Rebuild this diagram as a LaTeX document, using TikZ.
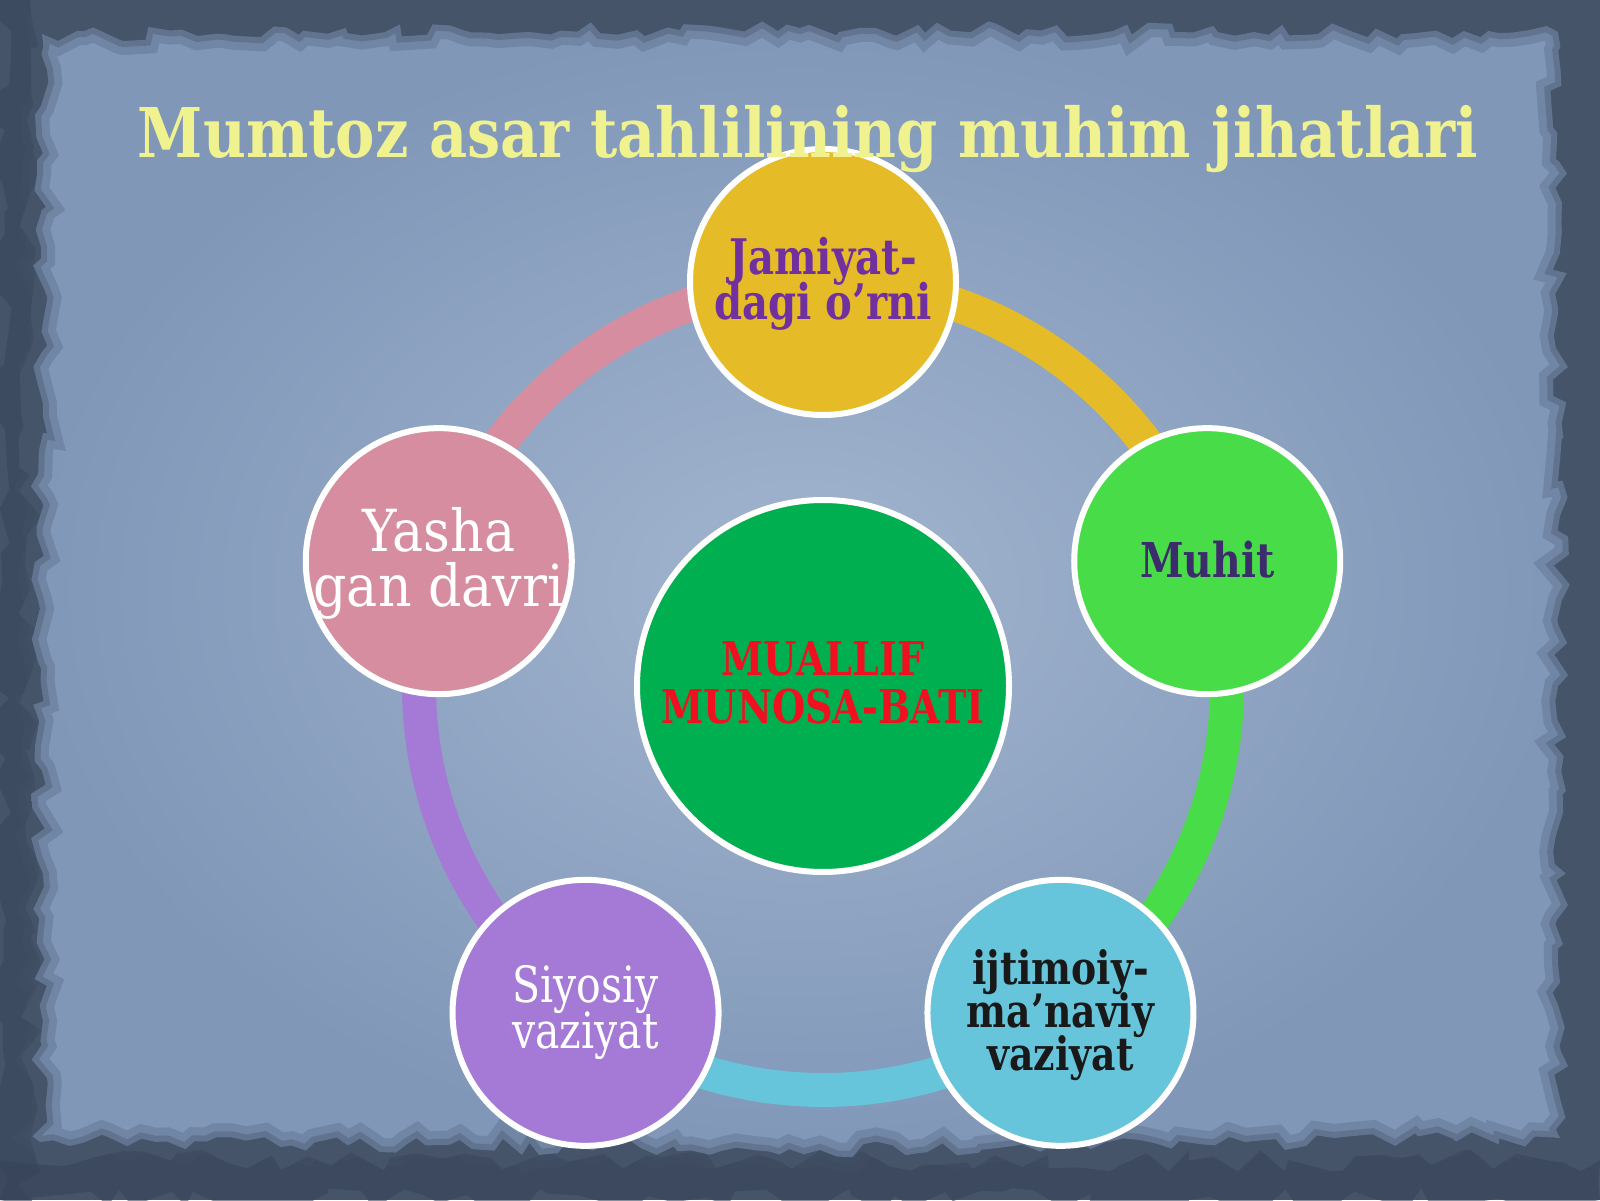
\documentclass[tikz,border=0pt]{standalone}
\usepackage{fontspec}
\setmainfont{DejaVu Serif}[FakeStretch=0.82]
\newfontfamily\titlefont{DejaVu Serif}[FakeStretch=0.86]
\newfontfamily\widefont{DejaVu Serif}[FakeStretch=0.9]
\usetikzlibrary{calc,decorations.pathmorphing}
\pgfdeclarelayer{paperlayer}
\pgfdeclarelayer{ringlayer}
\pgfsetlayers{paperlayer,ringlayer,main}
\definecolor{framec}{HTML}{46546A}
\definecolor{framedk}{HTML}{364357}
\definecolor{paperin}{HTML}{A2B5CF}
\definecolor{paperout}{HTML}{8097B8}
\definecolor{titlec}{HTML}{F0F290}
\definecolor{cgold}{HTML}{E6BB28}
\definecolor{cgreen}{HTML}{48DC48}
\definecolor{ccyan}{HTML}{66C4DB}
\definecolor{cpurple}{HTML}{A57AD6}
\definecolor{cpink}{HTML}{D68DA0}
\definecolor{chub}{HTML}{00B050}
\definecolor{jtext}{HTML}{7030A0}
\definecolor{mtext}{HTML}{3C2C6C}
\definecolor{hubtext}{HTML}{F01020}
\newcommand{\tightlines}{\lineskiplimit-100pt\relax}
\newcommand{\paperpath}{(40,58) -- (820,50) -- (1560,62) -- (1562,600) -- (1558,1168) -- (800,1172) -- (42,1166) -- (38,600) -- cycle}
\begin{document}
\begin{tikzpicture}[x=0.5pt,y=0.5pt,
  bubble/.style={circle, draw=white, line width=3pt, minimum size=133pt, inner sep=0pt},
  hubnode/.style={circle, draw=white, line width=3pt, minimum size=186pt, inner sep=0pt, fill=chub},
  ring/.style={line width=17pt},
  rough/.style={decorate, decoration={random steps, segment length=7pt, amplitude=4pt}},
  lbl/.style={align=center, inner sep=0pt}]
\useasboundingbox (0,0) rectangle (1600,1200);
\begin{pgfonlayer}{paperlayer}
  \fill[framec] (0,0) rectangle (1600,1200);
  \pgfmathsetseed{11}
  \fill[framedk, opacity=0.6, decorate, decoration={random steps, segment length=10pt, amplitude=6pt}]
    (0,0) rectangle (1600,40);
  \fill[framedk, opacity=0.5, decorate, decoration={random steps, segment length=10pt, amplitude=6pt}]
    (0,0) rectangle (30,1200);
  \pgfmathsetseed{7}
  \shade[inner color=paperin, outer color=paperout, rough] \paperpath;
  \pgfmathsetseed{7}
  \draw[framec, opacity=0.25, line width=14pt, rough] \paperpath;
  \pgfmathsetseed{7}
  \draw[framec, opacity=0.35, line width=6pt, rough] \paperpath;
\end{pgfonlayer}

\coordinate (C) at (823,514);
\node[hubnode] (hub) at (C) {};
\node[bubble, fill=cgold]   (jam) at ($(C)+(90:202pt)$) {};
\node[bubble, fill=cgreen]  (muh) at ($(C)+(18:202pt)$) {};
\node[bubble, fill=ccyan]   (ijt) at ($(C)+(-54:202pt)$) {};
\node[bubble, fill=cpurple] (siy) at ($(C)+(-126:202pt)$) {};
\node[bubble, fill=cpink]   (yas) at ($(C)+(162:202pt)$) {};

\begin{pgfonlayer}{ringlayer}
  \draw[ring, cgold]   (jam.center) arc[start angle=90,   end angle=18,   radius=202pt];
  \draw[ring, cgreen]  (muh.center) arc[start angle=18,   end angle=-54,  radius=202pt];
  \draw[ring, ccyan]   (ijt.center) arc[start angle=-54,  end angle=-126, radius=202pt];
  \draw[ring, cpurple] (siy.center) arc[start angle=-126, end angle=-198, radius=202pt];
  \draw[ring, cpink]   (yas.center) arc[start angle=162,  end angle=90,   radius=202pt];
\end{pgfonlayer}

\node[lbl, text=hubtext, font=\fontsize{23.3}{24}\selectfont\bfseries\tightlines]
  (hubt) at ($(hub)+(0,3)$) {MUALLIF\\MUNOSA-BATI};
\node[lbl, text=jtext, font=\fontsize{24.5}{22.5}\selectfont\bfseries\tightlines]
  (jamt) at ($(jam)+(0,-2)$) {Jamiyat-\\dagi o’rni};
\node[lbl, text=mtext, font=\fontsize{24}{24}\selectfont\bfseries]
  (muht) at ($(muh)+(0,2)$) {Muhit};
\node[lbl, text=black!90, font=\fontsize{23}{21.5}\selectfont\bfseries\tightlines]
  (ijtt) at ($(ijt)+(0,-2)$) {ijtimoiy-\\ma’naviy\\vaziyat};
\node[lbl, text=white, font=\fontsize{25}{23}\selectfont\tightlines]
  (siyt) at ($(siy)+(0,0)$) {Siyosiy\\vaziyat};
\node[lbl, text=white, font=\widefont\fontsize{29}{27.5}\selectfont\tightlines]
  (yast) at ($(yas)+(0,-2)$) {Yasha\\gan davri};

\node[anchor=base, inner sep=0pt, text=titlec, font=\titlefont\fontsize{34.3}{40}\selectfont\bfseries]
  (title) at (808,1042) {Mumtoz asar tahlilining muhim jihatlari};
\end{tikzpicture}
\end{document}
